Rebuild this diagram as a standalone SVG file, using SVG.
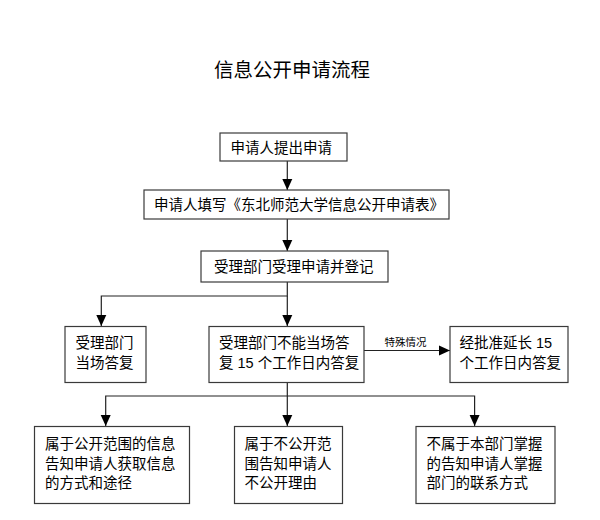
<svg xmlns="http://www.w3.org/2000/svg" width="600" height="520" viewBox="0 0 600 520">
<style>
text{font-family:"Liberation Sans","Noto Sans CJK SC",sans-serif;fill:#000;dominant-baseline:central}
.t{font-size:14.5px}
.b rect{fill:#fff;stroke:#3a3a3a;stroke-width:1.2}
#connectors path{fill:none;stroke:#222;stroke-width:1.2}
</style>
<defs>
<marker id="ah" markerUnits="userSpaceOnUse" markerWidth="12" markerHeight="12" viewBox="0 0 12 12" refX="11" refY="6" orient="auto">
<path d="M0,1 L11,6 L0,11 Z" fill="#000"/>
</marker>
</defs>
<rect width="600" height="520" fill="#fff"/>
<text x="292" y="69.5" text-anchor="middle" style="font-size:19.5px">信息公开申请流程</text>
<g id="connectors">
<path d="M287.3,161 V190" marker-end="url(#ah)"/>
<path d="M287.3,219 V251" marker-end="url(#ah)"/>
<path d="M287.3,282 V296 H101.3 V326" marker-end="url(#ah)"/>
<path d="M287.3,296 V326" marker-end="url(#ah)"/>
<path d="M364,350.5 H450" marker-end="url(#ah)"/>
<path d="M287.3,382 V396 H105.7 V426" marker-end="url(#ah)"/>
<path d="M287.3,396 V426" marker-end="url(#ah)"/>
<path d="M287.3,396 H474.6 V426" marker-end="url(#ah)"/>
<text x="384.5" y="341.5" style="font-size:10.5px">特殊情况</text>
</g>
<g id="n1" class="b"><rect x="220" y="133" width="127" height="28"/><text class="t" x="230.5" y="147.5">申请人提出申请</text></g>
<g id="n2" class="b"><rect x="144" y="190" width="305" height="29"/><text class="t" x="154" y="204.5">申请人填写《东北师范大学信息公开申请表》</text></g>
<g id="n3" class="b"><rect x="201" y="251" width="187" height="31"/><text class="t" x="214" y="266.5">受理部门受理申请并登记</text></g>
<g id="n4" class="b"><rect x="65" y="326.5" width="81" height="56"/><text class="t" x="75.5" y="343">受理部门</text><text class="t" x="75.5" y="362.5">当场答复</text></g>
<g id="n5" class="b"><rect x="209" y="326.5" width="155" height="56"/><text class="t" x="219" y="343">受理部门不能当场答</text><text class="t" x="219" y="362.5">复 15 个工作日内答复</text></g>
<g id="n6" class="b"><rect x="450" y="326.5" width="118" height="56"/><text class="t" x="459.5" y="343">经批准延长 15</text><text class="t" x="459.5" y="362.5">个工作日内答复</text></g>
<g id="n7" class="b"><rect x="34.5" y="426.5" width="155" height="77"/><text class="t" x="45" y="443.8">属于公开范围的信息</text><text class="t" x="45" y="463.6">告知申请人获取信息</text><text class="t" x="45" y="483.4">的方式和途径</text></g>
<g id="n8" class="b"><rect x="234.5" y="426.5" width="108" height="77"/><text class="t" x="244.5" y="443.8">属于不公开范</text><text class="t" x="244.5" y="463.6">围告知申请人</text><text class="t" x="244.5" y="483.4">不公开理由</text></g>
<g id="n9" class="b"><rect x="416" y="426.5" width="139" height="77"/><text class="t" x="426.5" y="443.8">不属于本部门掌握</text><text class="t" x="426.5" y="463.6">的告知申请人掌握</text><text class="t" x="426.5" y="483.4">部门的联系方式</text></g>
</svg>
